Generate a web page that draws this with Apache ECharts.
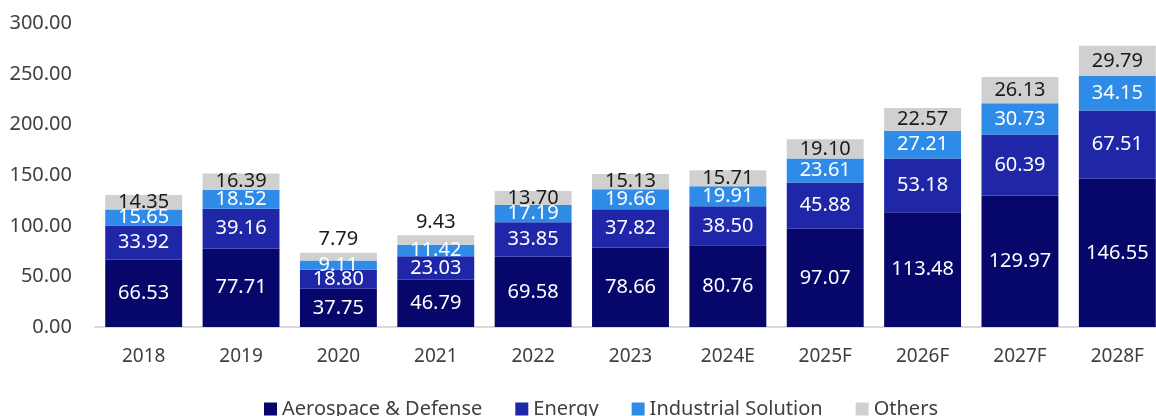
<!DOCTYPE html>
<html>
<head>
<meta charset="utf-8">
<script src="https://cdn.jsdelivr.net/npm/echarts@6/dist/echarts.min.js"></script>
<style>
  html, body { margin: 0; padding: 0; background: #fff; }
  #chart { width: 1156px; height: 416px; }
</style>
</head>
<body>
<div id="chart"></div>
<script>
const categories = ['2018', '2019', '2020', '2021', '2022', '2023', '2024E', '2025F', '2026F', '2027F', '2028F']
const aerospace = [66.53, 77.71, 37.75, 46.79, 69.58, 78.66, 80.76, 97.07, 113.48, 129.97, 146.55]
const energy = [33.92, 39.16, 18.80, 23.03, 33.85, 37.82, 38.50, 45.88, 53.18, 60.39, 67.51]
const industrial = [15.65, 18.52, 9.11, 11.42, 17.19, 19.66, 19.91, 23.61, 27.21, 30.73, 34.15]
const others = [14.35, 16.39, 7.79, 9.43, 13.70, 15.13, 15.71, 19.10, 22.57, 26.13, 29.79]

const font = 'Noto Sans'

function stackSeries(name, data, color, labelColor) {
  return {
    name,
    type: 'bar',
    stack: 'total',
    barCategoryGap: '21%',
    itemStyle: { color },
    label: {
      show: true,
      position: 'inside',
      color: labelColor,
      fontFamily: font,
      fontSize: 20,
      formatter: p => p.value.toFixed(2)
    },
    data
  }
}

const othersSeries = stackSeries('Others', others.map(v => ({
  value: v,
  // short top segments get their label above the bar
  label: v < 12 ? { position: 'top', distance: 3 } : {}
})), '#D0D0D0', '#1a1a1a')

const chart = echarts.init(document.getElementById('chart'))

chart.setOption({
  animation: false,
  grid: { left: 95, right: -10, top: 23.5, bottom: 89, outerBoundsMode: 'none' },
  legend: {
    bottom: -8,
    left: 259,
    itemWidth: 13,
    itemHeight: 13,
    itemGap: 33,
    icon: 'rect',
    textStyle: { fontFamily: font, fontSize: 20, color: '#404040' },
    data: ['Aerospace & Defense', 'Energy', 'Industrial Solution', 'Others']
  },
  xAxis: {
    type: 'category',
    data: categories,
    axisTick: { show: false },
    axisLine: { lineStyle: { color: '#D9D9D9', width: 2 } },
    axisLabel: { fontFamily: font, fontSize: 19, color: '#404040', margin: 20 }
  },
  yAxis: {
    type: 'value',
    min: 0,
    max: 300,
    interval: 50,
    splitLine: { show: false },
    axisLabel: {
      fontFamily: font,
      fontSize: 20,
      color: '#404040',
      margin: 23,
      formatter: v => v.toFixed(2)
    }
  },
  series: [
    stackSeries('Aerospace & Defense', aerospace, '#07066A', '#ffffff'),
    stackSeries('Energy', energy, '#1F27A8', '#ffffff'),
    stackSeries('Industrial Solution', industrial, '#2E8CE8', '#ffffff'),
    othersSeries
  ]
})
</script>
</body>
</html>
